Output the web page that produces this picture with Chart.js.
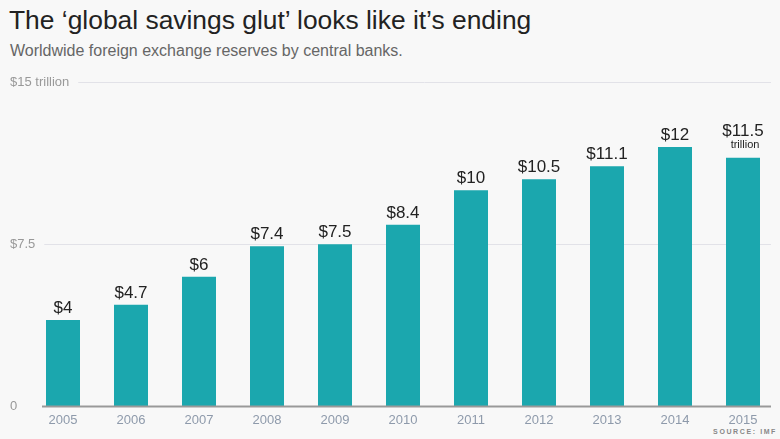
<!DOCTYPE html>
<html>
<head>
<meta charset="utf-8">
<script src="https://cdn.jsdelivr.net/npm/chart.js@4/dist/chart.umd.min.js"></script>
<style>
  html, body { margin: 0; padding: 0; background: #f8f8f8; }
  body { width: 780px; height: 439px; position: relative; overflow: hidden; font-family: "Liberation Sans", Arial, sans-serif; }
  #title { position: absolute; left: 9px; top: 5px; font-size: 26.4px; color: #222; white-space: nowrap; }
  #sub { position: absolute; left: 10px; top: 42px; font-size: 16px; color: #666; white-space: nowrap; }
  #source { position: absolute; right: 3px; top: 428px; font-size: 7px; letter-spacing: 1.6px; color: #888; font-weight: bold; }
  #wrap { position: absolute; left: 0; top: 0; width: 780px; height: 439px; }
</style>
</head>
<body>
<div id="title">The ‘global savings glut’ looks like it’s ending</div>
<div id="sub">Worldwide foreign exchange reserves by central banks.</div>
<div id="source">SOURCE: IMF</div>
<div id="wrap"><canvas id="chart"></canvas></div>
<script>
const years = ['2005', '2006', '2007', '2008', '2009', '2010', '2011', '2012', '2013', '2014', '2015'];
const reserves = [4, 4.7, 6, 7.4, 7.5, 8.4, 10, 10.5, 11.1, 12, 11.5];
const barLabels = ['$4', '$4.7', '$6', '$7.4', '$7.5', '$8.4', '$10', '$10.5', '$11.1', '$12', '$11.5'];
const yTicks = [0, 7.5, 15];
const yTickLabels = ['0', '$7.5', '$15 trillion'];

const teal = '#1ba7ae';

// y labels + grid lines, drawn from the y scale
const gridPlugin = {
    id: 'grid',
    beforeDatasetsDraw(chart) {
        const ctx = chart.ctx;
        const y = chart.scales.y;
        ctx.save();
        ctx.font = '13px "Liberation Sans", Arial, sans-serif';
        ctx.textBaseline = 'middle';
        ctx.textAlign = 'left';
        yTicks.forEach((v, i) => {
            const py = Math.round(y.getPixelForValue(v)) + 0.5;
            ctx.fillStyle = '#999';
            ctx.fillText(yTickLabels[i], 10, py);
            if (v === 0) return;
            const w = ctx.measureText(yTickLabels[i]).width;
            ctx.strokeStyle = '#e2e2e8';
            ctx.lineWidth = 1;
            ctx.beginPath();
            ctx.moveTo(Math.max(43, 10 + w + 9), py);
            ctx.lineTo(771, py);
            ctx.stroke();
        });
        ctx.restore();
    },
    afterDatasetsDraw(chart) {
        const ctx = chart.ctx;
        const py = Math.round(chart.scales.y.getPixelForValue(0)) + 0.5;
        ctx.save();
        ctx.strokeStyle = '#999';
        ctx.lineWidth = 2;
        ctx.beginPath();
        ctx.moveTo(42, py);
        ctx.lineTo(771, py);
        ctx.stroke();

        // value labels above bars
        const meta = chart.getDatasetMeta(0);
        ctx.fillStyle = '#222';
        ctx.textAlign = 'center';
        ctx.textBaseline = 'alphabetic';
        meta.data.forEach((bar, i) => {
            const last = i === meta.data.length - 1;
            ctx.font = '17px "Liberation Sans", Arial, sans-serif';
            ctx.fillText(barLabels[i], bar.x, bar.y - (last ? 22 : 7));
            if (last) {
                ctx.font = '11px "Liberation Sans", Arial, sans-serif';
                ctx.fillText('trillion', bar.x + 2, bar.y - 10);
            }
        });
        ctx.restore();
    }
};

new Chart(document.getElementById('chart'), {
    type: 'bar',
    data: {
        labels: years,
        datasets: [{
            data: reserves,
            backgroundColor: teal,
            barPercentage: 0.5,
            categoryPercentage: 1.0
        }]
    },
    options: {
        responsive: true,
        maintainAspectRatio: false,
        animation: false,
        layout: { padding: { top: 82, left: 29, right: 3, bottom: 13 } },
        plugins: {
            legend: { display: false },
            tooltip: { enabled: false }
        },
        scales: {
            x: {
                grid: { display: false },
                border: { display: false },
                ticks: {
                    color: '#8e9aab',
                    font: { size: 13, family: '"Liberation Sans", Arial, sans-serif' },
                    padding: -2
                }
            },
            y: {
                display: false,
                min: 0,
                max: 15
            }
        }
    },
    plugins: [gridPlugin]
});
</script>
</body>
</html>
